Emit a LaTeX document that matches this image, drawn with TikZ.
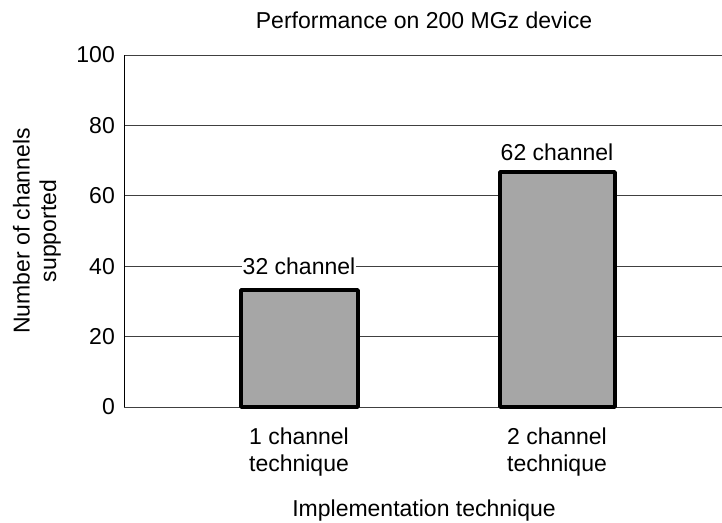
\documentclass[tikz,border=0pt]{standalone}
\usepackage{fontspec}
\setmainfont{Liberation Sans}
\usepackage{tikz}
\usetikzlibrary{positioning}
\tikzset{every node/.style={font=\fontsize{23}{26.5}\selectfont}}

\begin{document}
\begin{tikzpicture}[x=1pt, y=-1pt]
    % Define styles
    \tikzstyle{gridline} = [draw=black!75, line width=1pt]
    \tikzstyle{bar} = [draw=black, fill=black!35, line width=3.5pt, line join=round]
    \tikzstyle{ticklabel} = [anchor=east, inner sep=0pt]
    \tikzstyle{barlabel} = [fill=white, inner sep=1pt]
    \useasboundingbox (0,0) rectangle (722,522);

    % Grid lines and y tick labels
    \foreach \v in {0,20,...,100} {
        \draw [gridline] (124, 407-3.52*\v) -- (722, 407-3.52*\v);
        \node (tick\v) [ticklabel] at (115, 407-3.52*\v) {\v};
    }
    \draw [line width=1pt] (124,55) -- (124,407);

    % Bars
    \draw [bar] (241,407) rectangle (358,290);
    \draw [bar] (500,407) rectangle (615,172);

    % Bar labels
    \node (lab1) [barlabel] at (299, 266) {32 channel};
    \node (lab2) [barlabel] at (557, 152) {62 channel};

    % Category labels
    \node (cat1) [align=center] at (299, 452) {1 channel\\technique};
    \node (cat2) [align=center] at (557, 452) {2 channel\\technique};

    % Titles
    \node (title) at (424, 20) {Performance on 200 MGz device};
    \node (xlabel) at (424, 511) {Implementation technique};
    \node (ylabel) [rotate=90, align=center] at (37, 231) {Number of channels\\supported};
\end{tikzpicture}
\end{document}
